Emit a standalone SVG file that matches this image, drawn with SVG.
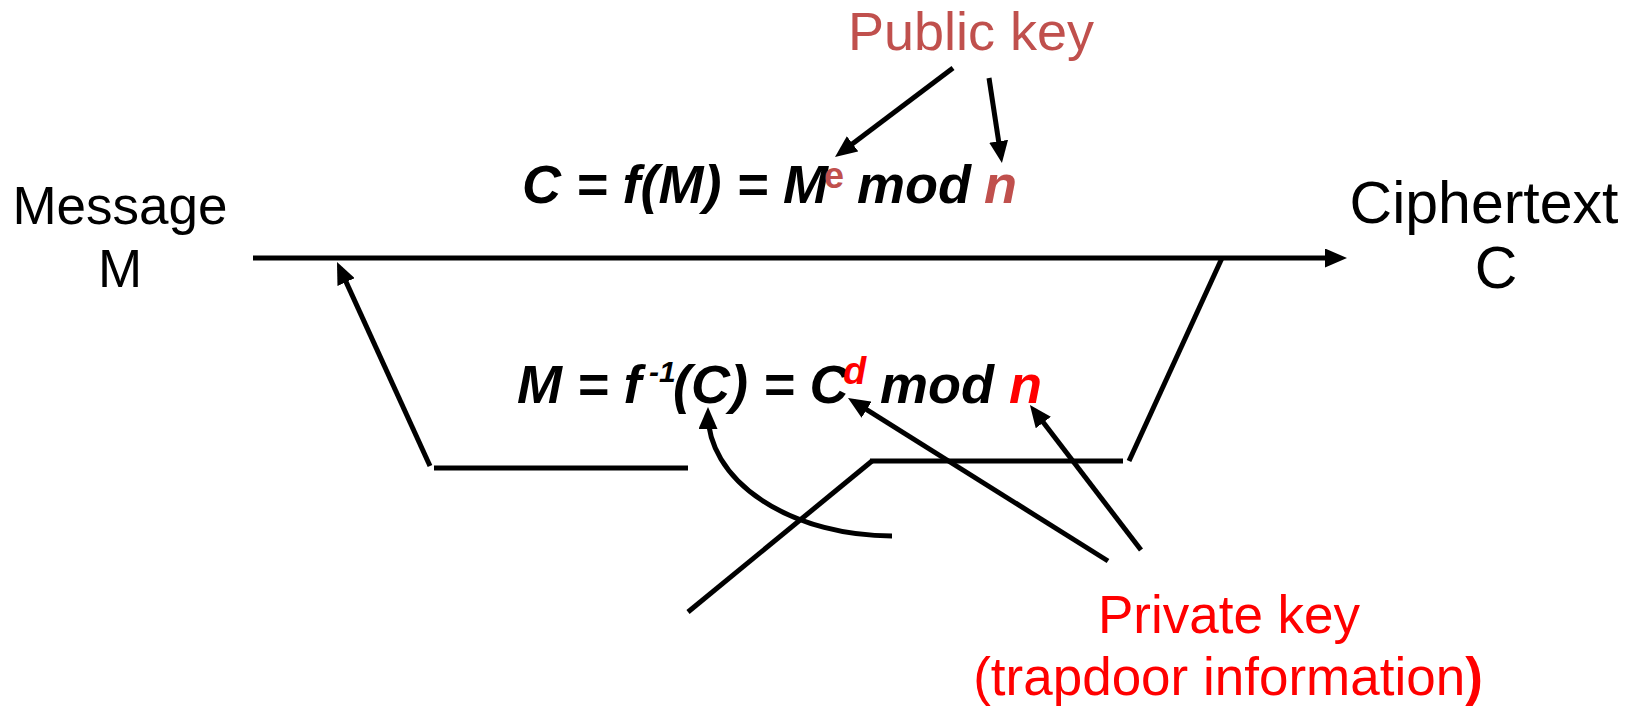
<svg xmlns="http://www.w3.org/2000/svg" width="1642" height="706" viewBox="0 0 1642 706">
<style>
.ln{stroke:#000;stroke-width:5;fill:none}
.ar{marker-end:url(#ah)}
.lbl{font-family:"Liberation Sans",Arial,sans-serif;font-size:53px;fill:#000}
.eq{font-family:"Liberation Sans",Arial,sans-serif;font-size:54px;font-weight:bold;font-style:italic;fill:#000}
.pub{fill:#C0504D}
.prv{fill:#FF0000}
</style>
<defs>
<marker id="ah" markerUnits="userSpaceOnUse" markerWidth="22" markerHeight="19" viewBox="0 0 22 19" refX="15" refY="9.5" orient="auto">
<path d="M0,0 L22,9.5 L0,19 z" fill="#000"/>
</marker>
</defs>
<rect width="1642" height="706" fill="#fff"/>
<g id="connectors">
<line class="ln ar" x1="253" y1="258" x2="1340" y2="258"/>
<line class="ln ar" x1="430" y1="466" x2="339.9" y2="268.4"/>
<line class="ln" x1="434" y1="468" x2="688" y2="468"/>
<line class="ln" x1="870" y1="461" x2="1123" y2="461"/>
<line class="ln" x1="1129" y1="461" x2="1222" y2="258"/>
<line class="ln" x1="688" y1="612" x2="872" y2="461"/>
<path class="ln ar" d="M892,536 A184,122 0 0 1 708,414"/>
<line class="ln ar" x1="1108" y1="561" x2="853.9" y2="401.7"/>
<line class="ln ar" x1="1141" y1="550" x2="1034.2" y2="410.6"/>
<line class="ln ar" x1="953" y1="68" x2="840.6" y2="152.8"/>
<line class="ln ar" x1="989" y1="78" x2="1000.9" y2="156.1"/>
</g>
<g id="message">
<text class="lbl" text-anchor="middle" x="120" y="224">Message</text>
<text class="lbl" text-anchor="middle" x="120" y="287">M</text>
</g>
<g id="ciphertext">
<text class="lbl" text-anchor="middle" x="1484" y="223" style="font-size:59px">Ciphertext</text>
<text class="lbl" text-anchor="middle" x="1496" y="288" style="font-size:59px">C</text>
</g>
<g id="public-key">
<text class="lbl pub" text-anchor="middle" x="971" y="50" style="font-size:54px">Public key</text>
</g>
<g id="encrypt">
<text class="eq" y="203"><tspan x="522">C = f(M) = M</tspan><tspan class="pub" x="824" y="188" style="font-size:36px;font-style:normal">e</tspan><tspan x="857" y="203">mod</tspan><tspan class="pub" x="984" y="203">n</tspan></text>
</g>
<g id="decrypt">
<text class="eq" y="403"><tspan x="517">M = f</tspan><tspan x="649" y="382" style="font-size:30px">-1</tspan><tspan x="673" y="403">(C) = C</tspan><tspan class="prv" x="843" y="384" style="font-size:38px">d</tspan><tspan x="880" y="403">mod</tspan><tspan class="prv" x="1009" y="403">n</tspan></text>
</g>
<g id="private-key">
<text class="lbl prv" text-anchor="middle" x="1229" y="633">Private key</text>
<text class="lbl prv" text-anchor="middle" x="1228" y="695">(trapdoor information<tspan style="font-weight:bold">)</tspan></text>
</g>
</svg>
